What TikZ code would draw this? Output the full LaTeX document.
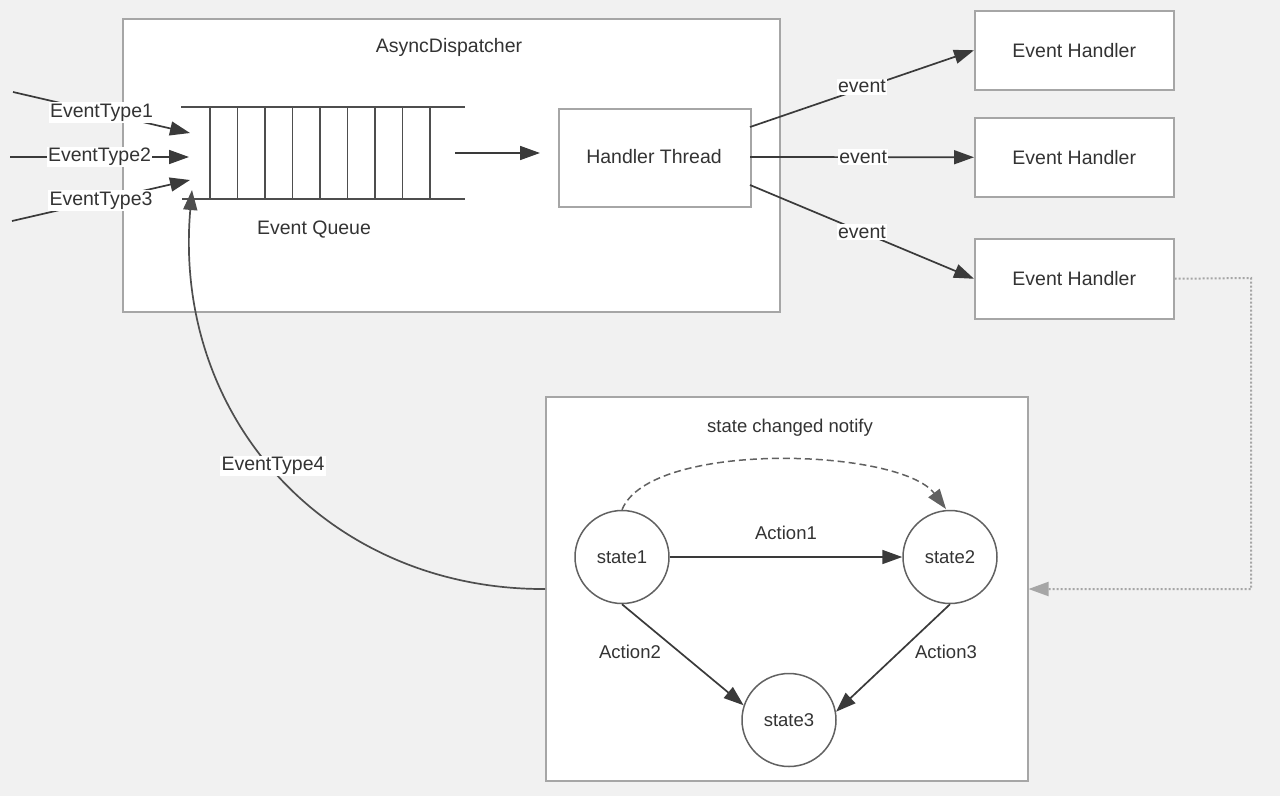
\documentclass[tikz,border=0pt]{standalone}
\usepackage{fontspec}
\setmainfont{Liberation Sans}
\usetikzlibrary{arrows.meta,shapes.geometric}
\definecolor{bg}{HTML}{F1F1F1}
\definecolor{frame}{HTML}{A6A6A6}
\definecolor{ink}{HTML}{3A3A3A}
\definecolor{txt}{HTML}{333333}
\tikzset{
  box/.style={draw=frame,line width=1.5pt,fill=white,inner sep=0pt},
  bigtxt/.style={text=txt,font=\fontsize{19.5}{22}\selectfont,inner sep=0pt},
  smalltxt/.style={text=txt,font=\fontsize{18.5}{21}\selectfont,inner sep=0pt},
  lab/.style={fill=white,text=txt,font=\fontsize{19.5}{22}\selectfont,inner sep=1.5pt},
  tip/.style={-{Triangle[length=20pt,width=14pt]}},
  conn/.style={draw=ink,line width=1.7pt,tip},
  qline/.style={draw=ink!90,line width=1.6pt},
  st/.style={draw=ink!80,line width=1.5pt,fill=white,ellipse,minimum width=94pt,minimum height=93pt,text=txt,font=\fontsize{18.5}{21}\selectfont,inner sep=0pt},
}
\begin{document}
\begin{tikzpicture}[x=1pt,y=-1pt]
\useasboundingbox (0,0) rectangle (1280,796);
\fill[bg] (0,0) rectangle (1280,796);

% AsyncDispatcher
\node[box,minimum width=657pt,minimum height=293pt,anchor=north west] (disp) at (122,18) {};
\node[bigtxt] (disptitle) at (449,47) {AsyncDispatcher};

% queue
\draw[qline] (181,107) -- (465,107);
\draw[qline] (182,199) -- (465,199);
\foreach \x in {210,237.5,265,292.5,320,347.5,375,402.5,430}
  \draw[qline] (\x,107) -- (\x,199);
\coordinate (qin1) at (190,133);
\coordinate (qin2) at (189,157);
\coordinate (qin3) at (190,180);
\coordinate (qin4) at (192,190);
\coordinate (qout) at (455,153);
\coordinate (tin) at (540,153);
\node[bigtxt] (qlabel) at (314,230) {Event Queue};

% handler thread
\node[box,minimum width=192pt,minimum height=98pt,anchor=north west] (thread) at (558,108) {};
\node[bigtxt] (threadtxt) at (654,157) {Handler Thread};
\draw[conn] (qout) -- (tin);

% event types in
\coordinate (e1s) at (13,92);
\coordinate (e2s) at (10,157);
\coordinate (e3s) at (12,221);
\draw[conn] (e1s) -- node[lab,pos=0.5] (et1) {EventType1} (qin1);
\draw[conn] (e2s) -- node[lab,pos=0.5] (et2) {EventType2} (qin2);
\draw[conn] (e3s) -- node[lab,pos=0.5] (et3) {EventType3} (qin3);

% event handlers
\node[box,minimum width=199pt,minimum height=79pt,anchor=north west] (h1) at (974,10) {};
\node[bigtxt] at (h1.center) {Event Handler};
\node[box,minimum width=199pt,minimum height=79pt,anchor=north west] (h2) at (974,117) {};
\node[bigtxt] at (h2.center) {Event Handler};
\node[box,minimum width=199pt,minimum height=80pt,anchor=north west] (h3) at (974,238) {};
\node[bigtxt] at (h3.center) {Event Handler};

\coordinate (t1) at (750,127);
\coordinate (t2) at (750,157);
\coordinate (t3) at (750,185);
\draw[conn] (t1) -- node[lab,pos=0.5,yshift=2pt] (ev1) {event} (h1.west);
\draw[conn] (t2) -- node[lab,pos=0.505] (ev2) {event} (h2.west);
\draw[conn] (t3) -- node[lab,pos=0.5] (ev3) {event} (h3.west);

% state box
\node[box,minimum width=482pt,minimum height=384pt,anchor=north west] (sbox) at (545,396) {};
\node[smalltxt] (stitle) at (790,428) {state changed notify};

\node[st] (s1) at (622,557) {state1};
\node[st] (s2) at (950,557) {state2};
\node[st] (s3) at (789,720) {state3};

\draw[conn] (s1.east) -- node[smalltxt,above=16pt,pos=0.5] (a1) {Action1} (s2.west);
\draw[conn] (s1.south) -- (s3.162);
\node[smalltxt] (a2) at (630,652) {Action2};
\draw[conn] (s2.south) -- (s3.10);
\node[smalltxt] (a3) at (946,652) {Action3};
\draw[draw=ink!80,line width=1.5pt,dashed,dash pattern=on 7pt off 4pt,tip]
  (s1.north) .. controls (650,440) and (900,448) .. (946,509);

% dotted feedback
\coordinate (dc1) at (1251,278);
\coordinate (dc2) at (1251,589);
\draw[draw=frame,line width=2pt,dotted,tip]
  (h3.east) -- (dc1) -- (dc2) -- (sbox.east |- dc2);

% EventType4
\coordinate (s4) at (545,589);
\draw[conn,draw=ink!90] (s4) .. controls (330,590) and (172,420) .. (qin4);
\node[lab] (et4) at (273,466) {EventType4};
\end{tikzpicture}
\end{document}
